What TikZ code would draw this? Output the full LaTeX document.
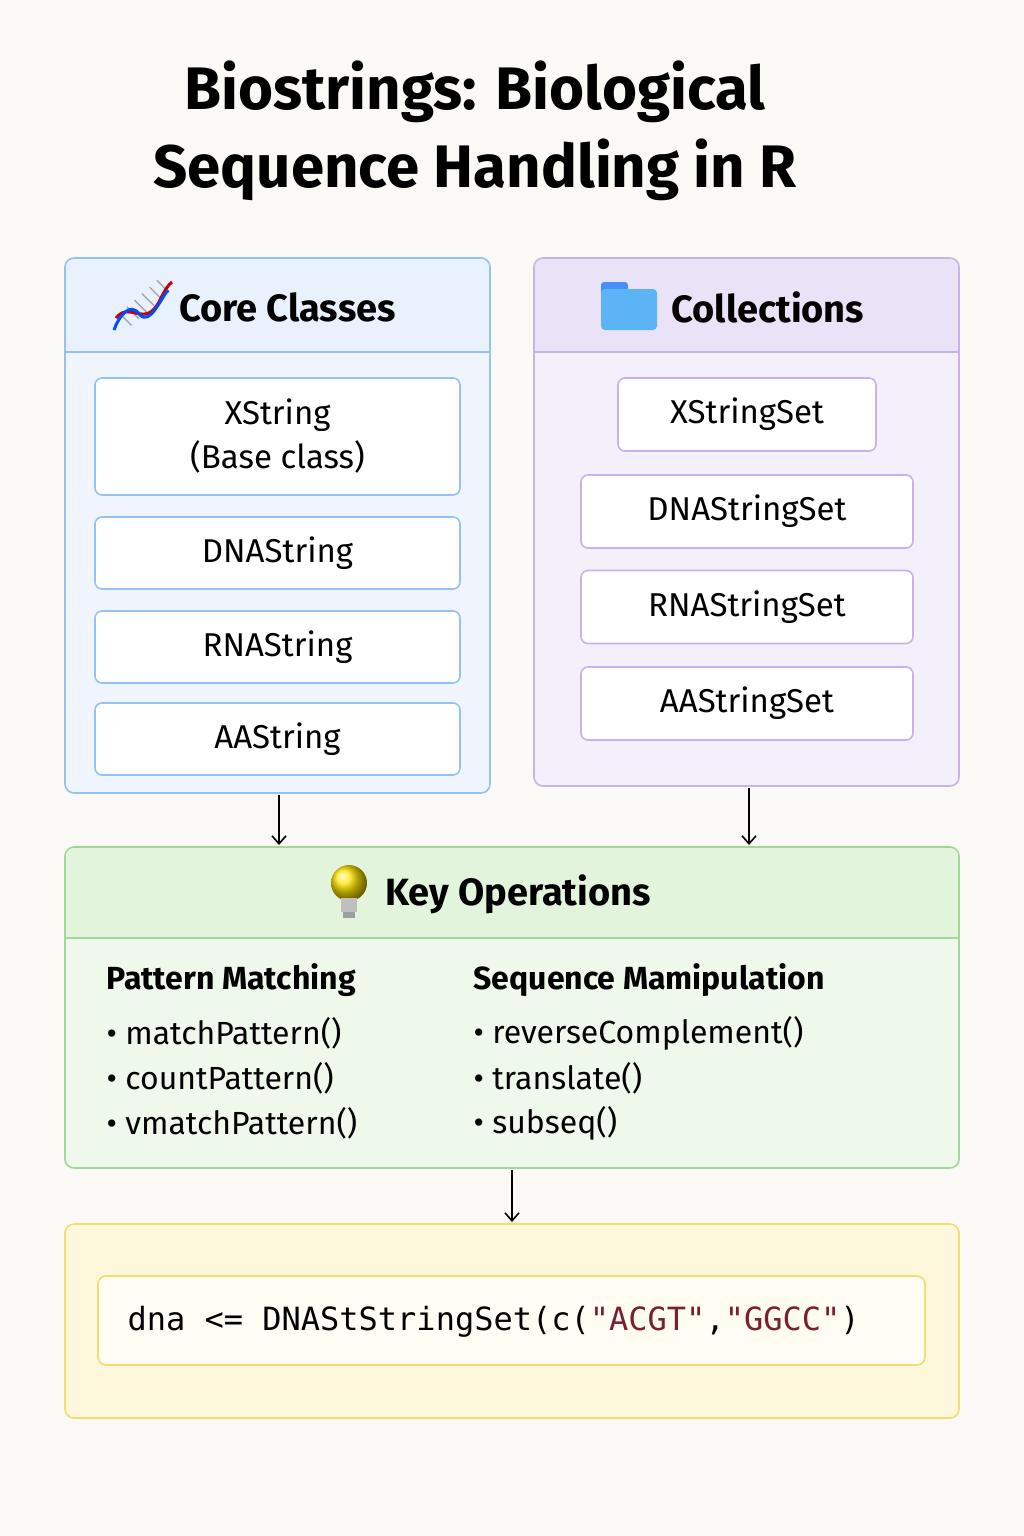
\documentclass[tikz,border=0pt]{standalone}
\usepackage{fontspec}
\setmainfont{Fira Sans}
\newfontfamily\monof{DejaVu Sans Mono}
\usetikzlibrary{arrows.meta,calc}
\begin{document}
\begin{tikzpicture}[x=1pt,y=-1pt,
  inner/.style={draw,line width=1.6pt,rounded corners=7pt,fill=white,font=\fontsize{33}{44}\selectfont,align=center},
  hdr/.style={font=\fontsize{38}{46}\selectfont\bfseries},
  arr/.style={-{Straight Barb[length=8pt,width=14pt]},line width=1.6pt},
  bul/.style={anchor=west,font=\fontsize{32}{38}\selectfont},
  sub/.style={anchor=west,font=\fontsize{32}{38}\selectfont\bfseries}]
\definecolor{bg}{HTML}{FAF9F6}
\definecolor{bB}{HTML}{94C2F2}\definecolor{fB}{HTML}{F0F5FD}\definecolor{hB}{HTML}{E8F1FC}
\definecolor{bP}{HTML}{C8B3E8}\definecolor{fP}{HTML}{F3EFFB}\definecolor{hP}{HTML}{EAE2F7}
\definecolor{bG}{HTML}{A2D69A}\definecolor{fG}{HTML}{EEF8EB}\definecolor{hG}{HTML}{E2F4DC}
\definecolor{bY}{HTML}{F4DC6E}\definecolor{fY}{HTML}{FDF8DC}\definecolor{iY}{HTML}{FFFDF3}
\definecolor{str}{HTML}{7A1F30}\definecolor{fold}{HTML}{5AB4F5}
\fill[bg] (0,0) rectangle (1024,1536);
\useasboundingbox (0,0) rectangle (1024,1536);
\node[font=\fontsize{60}{78}\selectfont\bfseries,align=center] (title) at (475,131) {Biostrings: Biological\\Sequence Handling in R};
% Core classes
\fill[fB,rounded corners=9pt] (65,258) rectangle (490,793);
\fill[hB,rounded corners=9pt] (66,259) rectangle (489,352);
\fill[hB] (66,320) rectangle (489,352);
\draw[bB,line width=1.6pt,rounded corners=9pt] (65,258) rectangle (490,793);
\draw[bB,line width=1.6pt] (65,352) -- (490,352);
\node[hdr,anchor=west] (hcore) at (176,307) {Core Classes};
% dna icon
\foreach \t in {0.15,0.3,0.45,0.6,0.75,0.9}{
  \draw[gray!70,line width=1.4pt] ($(118,326)!\t!(168,282)+(-6,-6)$) -- ($(118,326)!\t!(168,282)+(6,6)$);}
\draw[red!80!black,line width=3pt] (116,318) .. controls (130,300) and (145,330) .. (160,300) .. controls (165,290) and (168,285) .. (172,282);
\draw[blue!70!cyan,line width=3pt] (114,330) .. controls (118,318) and (130,300) .. (140,315) .. controls (150,325) and (160,300) .. (168,290);
\node[inner,draw=bB,minimum width=365pt,minimum height=117pt] (xs) at (277.5,436.5) {XString\\(Base class)};
\node[inner,draw=bB,minimum width=365pt,minimum height=72pt] (dna) at (277.5,553) {DNAString};
\node[inner,draw=bB,minimum width=365pt,minimum height=72pt] (rna) at (277.5,647) {RNAString};
\node[inner,draw=bB,minimum width=365pt,minimum height=72pt] (aa) at (277.5,739) {AAString};
% Collections
\fill[fP,rounded corners=9pt] (534,258) rectangle (959,786);
\fill[hP,rounded corners=9pt] (535,259) rectangle (958,352);
\fill[hP] (535,320) rectangle (958,352);
\draw[bP,line width=1.6pt,rounded corners=9pt] (534,258) rectangle (959,786);
\draw[bP,line width=1.6pt] (534,352) -- (959,352);
\fill[fold!80!blue,rounded corners=3pt] (601,282) rectangle (628,300);
\fill[fold,rounded corners=4pt] (601,289) rectangle (657,330);
\node[hdr,anchor=west] (hcol) at (668,307) {Collections};
\node[inner,draw=bP,minimum width=258pt,minimum height=73pt] (xss) at (747,414.5) {XStringSet};
\node[inner,draw=bP,minimum width=332pt,minimum height=73pt] (dss) at (747,511.5) {DNAStringSet};
\node[inner,draw=bP,minimum width=332pt,minimum height=73pt] (rss) at (747,607) {RNAStringSet};
\node[inner,draw=bP,minimum width=332pt,minimum height=73pt] (ass) at (747,703.5) {AAStringSet};
% Key operations
\fill[fG,rounded corners=9pt] (65,847) rectangle (959,1168);
\fill[hG,rounded corners=9pt] (66,848) rectangle (958,938);
\fill[hG] (66,900) rectangle (958,938);
\draw[bG,line width=1.6pt,rounded corners=9pt] (65,847) rectangle (959,1168);
\draw[bG,line width=1.6pt] (65,938) -- (959,938);
\coordinate (kA) at (279,845); \coordinate (kB) at (749,845);
\coordinate (cA) at (279,795); \coordinate (cB) at (749,788);
\draw[arr] (cA) -- (kA);
\draw[arr] (cB) -- (kB);
% bulb
\shade[ball color=yellow!80!orange] (349,883) circle (18pt);
\fill[gray!50] (341,898) rectangle (357,912);
\fill[gray!75] (343,912) rectangle (355,918);
\node[hdr,anchor=west] (hkey) at (382,894) {Key Operations};
\node[sub] (pm) at (103,980) {Pattern Matching};
\node[bul] (p1) at (103,1033) {\textbullet\ matchPattern()};
\node[bul] (p2) at (103,1078) {\textbullet\ countPattern()};
\node[bul] (p3) at (103,1123) {\textbullet\ vmatchPattern()};
\node[sub] (sm) at (470,980) {Sequence Mamipulation};
\node[bul] (s1) at (470,1033) {\textbullet\ reverseComplement()};
\node[bul] (s2) at (470,1078) {\textbullet\ translate()};
\node[bul] (s3) at (470,1123) {\textbullet\ subseq()};
% code
\fill[fY,rounded corners=9pt] (65,1224) rectangle (959,1418);
\draw[bY,line width=1.6pt,rounded corners=9pt] (65,1224) rectangle (959,1418);
\coordinate (kC) at (512,1170); \coordinate (yC) at (512,1222);
\draw[arr] (kC) -- (yC);
\node[draw=bY,fill=iY,line width=1.6pt,rounded corners=8pt,minimum width=827pt,minimum height=89pt] (code) at (511.5,1320.5) {};
\node[anchor=west,font=\monof\fontsize{32}{40}\selectfont] (ctext) at (124,1322) {dna <= DNAStStringSet(c(\textcolor{str}{"ACGT"},\textcolor{str}{"GGCC"})};
\end{tikzpicture}
\end{document}
